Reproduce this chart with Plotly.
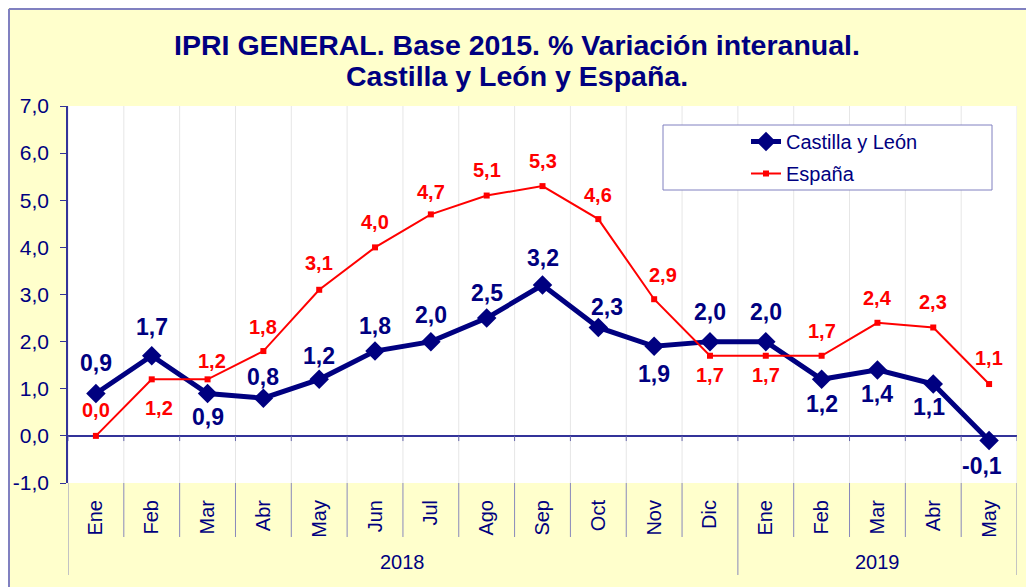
import plotly.graph_objects as go

months = ["Ene", "Feb", "Mar", "Abr", "May", "Jun", "Jul", "Ago", "Sep", "Oct", "Nov", "Dic",
          "Ene", "Feb", "Mar", "Abr", "May"]
years = ["2018", "2019"]
year_counts = [12, 5]
castilla = [0.9, 1.7, 0.9, 0.8, 1.2, 1.8, 2.0, 2.5, 3.2, 2.3, 1.9, 2.0, 2.0, 1.2, 1.4, 1.1, -0.1]
espana = [0.0, 1.2, 1.2, 1.8, 3.1, 4.0, 4.7, 5.1, 5.3, 4.6, 2.9, 1.7, 1.7, 1.7, 2.4, 2.3, 1.1]
yticks = [-1, 0, 1, 2, 3, 4, 5, 6, 7]
title_lines = ["IPRI GENERAL. Base 2015. % Variación interanual.", "Castilla y León y España."]

# label placement styling (pixels, positive = up / right)
cyl_yshift = [30, 29, -24, 21, 23, 25, 27, 25, 27, 20, -28, 30, 30, -25, -24, -23, -25]
cyl_xshift = [0, 0, 0, 0, 0, 0, 0, 0, 0, 9, 0, 0, 0, 0, 0, -4, -7]
esp_yshift = [26, -29, 18, 24, 27, 25, 22, 26, 25, 24, 24, -19, -19, 25, 25, 25, 26]
esp_xshift = [0, 7, 4, 0, 0, 0, 0, 0, 0, 0, 9, 0, 0, 0, 0, 0, 0]

NAVY = "#000080"
RED = "#FF0000"
YELLOW = "#FFFFCC"
BORDER = "#8080C0"
FONT = "Liberation Sans, Arial, sans-serif"

OFF = 8  # page body margin
SCREEN_W, SCREEN_H = 1034, 587
W, H = SCREEN_W - OFF, SCREEN_H - OFF
# plot area in screen pixels: x 68..1017, y 106..483
L, R, T, B = 68 - OFF, W - (1017 - OFF), 106 - OFF, H - (483 - OFF)
PW, PH = W - L - R, H - T - B


def px_x(p):  # screen px -> paper
    return (p - OFF - L) / PW


def px_y(p):
    return (H - B - (p - OFF)) / PH


def fmt(v):
    return f"{v:.1f}".replace(".", ",")


xs = list(range(len(months)))

fig = go.Figure()
fig.add_trace(go.Scatter(
    x=xs, y=castilla, name="Castilla y León", mode="lines+markers",
    line=dict(color=NAVY, width=5), marker=dict(symbol="diamond", size=15, color=NAVY),
    legendgroup="a"))
fig.add_trace(go.Scatter(
    x=xs, y=espana, name="España", mode="lines+markers",
    line=dict(color=RED, width=2), marker=dict(symbol="square", size=6, color=RED),
    legendgroup="b"))

annotations = []
for i, v in enumerate(castilla):
    annotations.append(dict(x=i, y=v, xref="x", yref="y", text="<b>" + fmt(v) + "</b>",
                            showarrow=False, yshift=cyl_yshift[i], xshift=cyl_xshift[i],
                            font=dict(family=FONT, size=23, color=NAVY)))
for i, v in enumerate(espana):
    annotations.append(dict(x=i, y=v, xref="x", yref="y", text="<b>" + fmt(v) + "</b>",
                            showarrow=False, yshift=esp_yshift[i], xshift=esp_xshift[i],
                            font=dict(family=FONT, size=20, color=RED)))

# second title line
annotations.append(dict(x=px_x(SCREEN_W / 2), y=px_y(76), xref="paper", yref="paper",
                        text="<b>" + title_lines[1] + "</b>",
                        showarrow=False, xanchor="center", yanchor="middle",
                        font=dict(family=FONT, size=28.5, color=NAVY)))

# year labels
start = 0
year_bounds = [-0.5]
for yname, cnt in zip(years, year_counts):
    center = start + (cnt - 1) / 2
    annotations.append(dict(x=center, y=px_y(562), xref="x", yref="paper", text=yname,
                            showarrow=False, yanchor="middle",
                            font=dict(family=FONT, size=20, color=NAVY)))
    start += cnt
    year_bounds.append(start - 0.5)

shapes = []
# chart border (left and top visible)
shapes.append(dict(type="line", xref="paper", yref="paper", x0=px_x(9), x1=px_x(9),
                   y0=px_y(OFF + 1), y1=px_y(SCREEN_H + 5), line=dict(color=BORDER, width=2), layer="below"))
shapes.append(dict(type="line", xref="paper", yref="paper", x0=px_x(9), x1=px_x(SCREEN_W + 5),
                   y0=px_y(OFF + 1), y1=px_y(OFF + 1), line=dict(color=BORDER, width=2), layer="below"))

bounds = [k - 0.5 for k in range(len(months) + 1)]
for bx in bounds:
    # faint vertical gridlines
    shapes.append(dict(type="line", xref="x", yref="paper", x0=bx, x1=bx, y0=0, y1=1,
                       line=dict(color="#E6E6E6", width=1), layer="below"))
    # ticks on zero line
    shapes.append(dict(type="line", xref="x", yref="y", x0=bx, x1=bx, y0=0, y1=-0.11,
                       line=dict(color="#6666AA", width=1), layer="above"))
    # category dividers in label area
    y1 = px_y(575) if bx in year_bounds else px_y(537)
    shapes.append(dict(type="line", xref="x", yref="paper", x0=bx, x1=bx, y0=0, y1=y1,
                       line=dict(color="#8888BB", width=1), layer="above"))

# legend box
shapes.append(dict(type="rect", xref="paper", yref="paper", x0=px_x(663), x1=px_x(992),
                   y0=px_y(190), y1=px_y(125), fillcolor="white",
                   line=dict(color=BORDER, width=1), layer="above"))

fig.update_layout(
    width=W, height=H,
    margin=dict(l=L, r=R, t=T, b=B, pad=0, autoexpand=False),
    paper_bgcolor=YELLOW, plot_bgcolor="white",
    separators=",.",
    font=dict(family=FONT, size=20, color=NAVY),
    title=dict(text="<b>" + title_lines[0] + "</b>",
               x=(SCREEN_W / 2 - OFF) / W, xref="container", xanchor="center",
               y=1 - (45 - OFF) / H, yref="container", yanchor="middle",
               font=dict(family=FONT, size=28.5, color=NAVY)),
    showlegend=True,
    legend=dict(x=px_x(746), y=px_y(122), xanchor="left", yanchor="top",
                bgcolor="rgba(0,0,0,0)", borderwidth=0, tracegroupgap=3,
                traceorder="grouped",
                font=dict(family=FONT, size=20, color=NAVY)),
    xaxis=dict(range=[-0.5, len(months) - 0.5], tickmode="array", tickvals=xs, ticktext=months,
               tickangle=-90, showgrid=False, zeroline=False, showline=False, ticks="",
               ticklabelstandoff=12, tickfont=dict(family=FONT, size=20, color=NAVY),
               fixedrange=True, automargin=False),
    yaxis=dict(range=[-1, 7], tickmode="array", tickvals=yticks,
               ticktext=[fmt(v) for v in yticks], showgrid=False,
               zeroline=True, zerolinecolor="#333399", zerolinewidth=1.5,
               showline=True, linecolor="#333399", linewidth=1.5,
               ticks="outside", ticklen=6, tickcolor="#333399", ticklabelstandoff=7,
               tickfont=dict(family=FONT, size=21, color=NAVY), fixedrange=True,
               automargin=False),
    shapes=shapes,
    annotations=annotations,
)

fig.write_html("out.html")
